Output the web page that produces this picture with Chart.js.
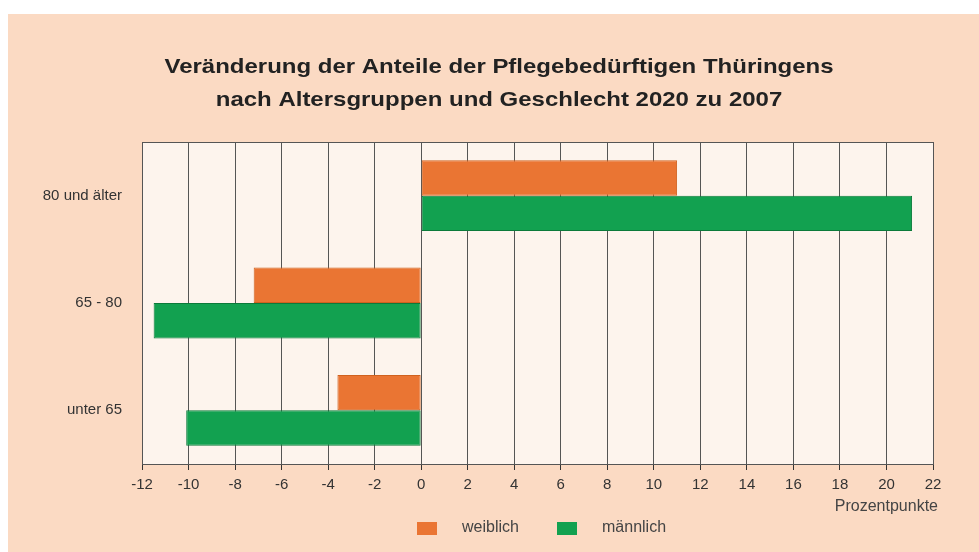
<!DOCTYPE html>
<html>
<head>
<meta charset="utf-8">
<script src="https://cdn.jsdelivr.net/npm/chart.js@4"></script>
<style>
  html, body { margin: 0; padding: 0; background: #fff; }
  #wrap { width: 979px; height: 552px; position: relative; }
</style>
</head>
<body>
<div id="wrap"><canvas id="chart" width="979" height="552"></canvas></div>
<script>
// data
const categories = ['80 und älter', '65 - 80', 'unter 65'];
const seriesNames = ['weiblich', 'männlich'];
const weiblich = [11.0, -7.2, -3.6];
const maennlich = [21.1, -11.5, -10.1];
const titleLines = [
  'Veränderung der Anteile der Pflegebedürftigen Thüringens',
  'nach Altersgruppen und Geschlecht 2020 zu 2007'
];
const axisUnit = 'Prozentpunkte';

const FONT = '"Liberation Sans", Arial, sans-serif';
const PEACH = '#fbdac3';
const PLOT_BG = '#fdf4ed';
const ORANGE = '#ea7533';
const GREEN = '#12a150';

const decorPlugin = {
  id: 'decor',
  beforeDraw: (chart) => {
    const { ctx, chartArea: a } = chart;
    ctx.save();
    ctx.fillStyle = '#ffffff';
    ctx.fillRect(0, 0, chart.width, chart.height);
    ctx.fillStyle = PEACH;
    ctx.fillRect(8, 14, chart.width - 8, chart.height - 14);
    ctx.fillStyle = PLOT_BG;
    ctx.fillRect(a.left, a.top, a.right - a.left, a.bottom - a.top);
    ctx.restore();
  },
  afterDraw: (chart) => {
    const { ctx, chartArea: a } = chart;
    ctx.save();
    // frame
    ctx.strokeStyle = '#555';
    ctx.lineWidth = 1;
    ctx.strokeRect(a.left + 0.5, a.top + 0.5, a.right - a.left, a.bottom - a.top);

    // title (source is slightly stretched horizontally)
    ctx.fillStyle = '#222';
    ctx.font = 'bold 20.5px ' + FONT;
    ctx.textAlign = 'center';
    ctx.textBaseline = 'alphabetic';
    ctx.save();
    ctx.translate(499, 0);
    ctx.scale(1.17, 1);
    ctx.fillText(titleLines[0], 0, 73);
    ctx.fillText(titleLines[1], 0, 106);
    ctx.restore();

    // unit label
    ctx.fillStyle = '#444';
    ctx.font = '16px ' + FONT;
    ctx.textAlign = 'right';
    ctx.textBaseline = 'middle';
    ctx.fillText(axisUnit, 938, 507);

    // legend
    const items = chart.data.datasets;
    const xs = [417, 557];
    items.forEach((ds, i) => {
      const x = xs[i];
      ctx.fillStyle = ds.backgroundColor;
      ctx.fillRect(x, 522, 20, 13);
      ctx.fillStyle = '#444';
      ctx.textAlign = 'left';
      ctx.fillText(ds.label, x + 45, 528);
    });
    ctx.restore();
  }
};

const data = {
  labels: categories,
  datasets: [
    {
      label: seriesNames[0],
      data: weiblich,
      backgroundColor: ORANGE,
      borderColor: '#d0621f',
      borderWidth: 1,
      borderSkipped: false
    },
    {
      label: seriesNames[1],
      data: maennlich,
      backgroundColor: GREEN,
      borderColor: '#0b7a3a',
      borderWidth: 1,
      borderSkipped: false
    }
  ]
};

const config = {
  type: 'bar',
  data,
  plugins: [decorPlugin],
  options: {
    indexAxis: 'y',
    responsive: false,
    animation: false,
    layout: { padding: { top: 142, right: 46, bottom: 0, left: 0 } },
    datasets: { bar: { categoryPercentage: 0.66, barPercentage: 1.0 } },
    plugins: {
      legend: { display: false },
      title: { display: false },
      tooltip: { enabled: false }
    },
    scales: {
      x: {
        min: -12,
        max: 22,
        afterFit: (scale) => { scale.height = 88; },
        ticks: {
          stepSize: 2,
          color: '#333',
          font: { family: FONT, size: 15 },
          padding: 6,
          maxRotation: 0
        },
        grid: { color: '#555', lineWidth: 1, drawTicks: true, tickLength: 6, tickColor: '#333' },
        border: { display: true, color: '#333', width: 1 }
      },
      y: {
        afterFit: (scale) => { scale.width = 142; },
        ticks: {
          color: '#333',
          font: { family: FONT, size: 15 },
          padding: 20
        },
        grid: { display: false, drawTicks: false },
        border: { display: true, color: '#555', width: 1 }
      }
    }
  }
};

new Chart(document.getElementById('chart'), config);
</script>
</body>
</html>
